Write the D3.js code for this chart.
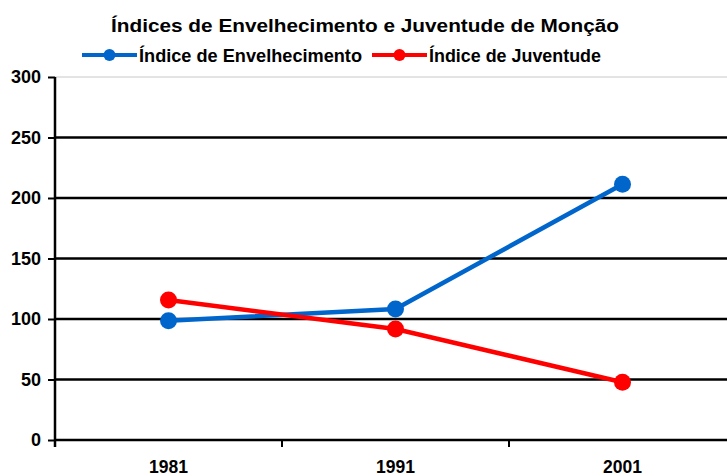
<!DOCTYPE html>
<html>
<head>
<meta charset="utf-8">
<script src="https://cdn.jsdelivr.net/npm/d3@7"></script>
<style>
  body { margin: 0; background: #fff; }
  text { font-family: "Liberation Sans", Arial, sans-serif; font-weight: bold; fill: #000; }
</style>
</head>
<body>
<div id="chart"></div>
<script>
const years = ["1981", "1991", "2001"];
const envelhecimento = [98.5, 108.3, 211.3];
const juventude = [115.7, 91.7, 47.7];
const yTicks = [0, 50, 100, 150, 200, 250, 300];

const series = [
  { name: "Índice de Envelhecimento", values: envelhecimento, color: "#0066CC" },
  { name: "Índice de Juventude", values: juventude, color: "#FF0000" }
];

const W = 727, H = 476;
const svg = d3.select("#chart").append("svg")
  .attr("width", W).attr("height", H);

const x = d3.scaleBand().domain(years).range([55, 736]).padding(0);
const y = d3.scaleLinear().domain([0, 300]).range([440, 77]);

// Title
svg.append("text")
  .attr("x", 365).attr("y", 32)
  .attr("text-anchor", "middle")
  .attr("font-size", "18px")
  .attr("textLength", 508).attr("lengthAdjust", "spacingAndGlyphs")
  .text("Índices de Envelhecimento e Juventude de Monção");

// Gridlines
svg.append("g")
  .selectAll("line")
  .data(yTicks.filter((d) => d > 0))
  .join("line")
  .attr("x1", 55).attr("x2", W)
  .attr("y1", (d) => y(d)).attr("y2", (d) => y(d))
  .attr("stroke", (d) => d === 300 ? "#c8c8c8" : "#000")
  .attr("stroke-width", (d) => d === 300 ? 1 : 2.5);

// Y axis
const yAxis = svg.append("g")
  .attr("transform", "translate(55,0)")
  .call(d3.axisLeft(y).tickValues(yTicks).tickSize(7).tickPadding(7).tickSizeOuter(0));
yAxis.select(".domain").attr("stroke", "#000").attr("stroke-width", 2.5)
  .attr("d", `M0,${y(300)}V${y(0) + 7}`);
yAxis.selectAll(".tick line").attr("stroke", "#000").attr("stroke-width", 2);
yAxis.selectAll("text")
  .attr("font-size", "18px")
  .attr("font-family", "Liberation Sans, Arial, sans-serif")
  .attr("font-weight", "bold")
  .attr("fill", "#000");

// X axis
const xAxis = svg.append("g")
  .attr("transform", `translate(0,${y(0)})`)
  .call(d3.axisBottom(x).tickSize(0).tickPadding(21).tickSizeOuter(0));
xAxis.select(".domain").attr("stroke", "#000").attr("stroke-width", 2.5)
  .attr("d", `M55,0H${W}`);
xAxis.selectAll("text")
  .attr("font-size", "17.5px")
  .attr("font-family", "Liberation Sans, Arial, sans-serif")
  .attr("font-weight", "bold")
  .attr("fill", "#000");
// band boundary ticks
xAxis.append("g")
  .selectAll("line")
  .data(years.slice(1))
  .join("line")
  .attr("x1", (d) => x(d)).attr("x2", (d) => x(d))
  .attr("y1", 0).attr("y2", 7)
  .attr("stroke", "#000").attr("stroke-width", 2);

// Lines and markers
const line = d3.line()
  .x((d, i) => x(years[i]) + x.bandwidth() / 2)
  .y((d) => y(d));

series.forEach((s) => {
  svg.append("path")
    .datum(s.values)
    .attr("d", line)
    .attr("fill", "none")
    .attr("stroke", s.color)
    .attr("stroke-width", 4.5);
  svg.append("g")
    .selectAll("circle")
    .data(s.values)
    .join("circle")
    .attr("cx", (d, i) => x(years[i]) + x.bandwidth() / 2)
    .attr("cy", (d) => y(d))
    .attr("r", 8.5)
    .attr("fill", s.color);
});

// Legend
const legendItems = [
  { x0: 82, x1: 137, tx: 139, tw: 223 },
  { x0: 372, x1: 427, tx: 429, tw: 172 }
];
const legend = svg.append("g");
series.forEach((s, i) => {
  const L = legendItems[i];
  const g = legend.append("g");
  g.append("line")
    .attr("x1", L.x0).attr("x2", L.x1)
    .attr("y1", 55).attr("y2", 55)
    .attr("stroke", s.color).attr("stroke-width", 4);
  g.append("circle")
    .attr("cx", (L.x0 + L.x1) / 2).attr("cy", 55).attr("r", 6)
    .attr("fill", s.color);
  g.append("text")
    .attr("x", L.tx).attr("y", 62)
    .attr("font-size", "18px")
    .attr("textLength", L.tw).attr("lengthAdjust", "spacingAndGlyphs")
    .text(s.name);
});
</script>
</body>
</html>
